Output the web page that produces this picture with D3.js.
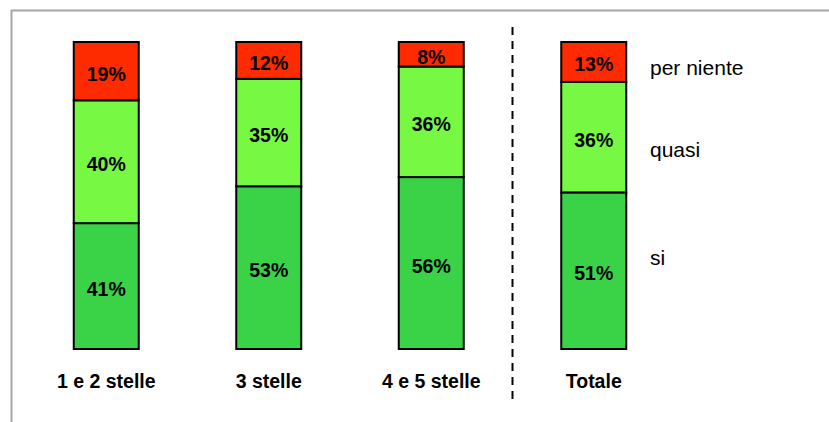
<!DOCTYPE html>
<html>
<head>
<meta charset="utf-8">
<script src="https://cdn.jsdelivr.net/npm/d3@7"></script>
<style>
  body { margin: 0; background: #fff; }
  svg text { font-family: "Liberation Sans", Arial, sans-serif; }
</style>
</head>
<body>
<div id="chart"></div>
<script>
// categories and values (percent), stacked bottom -> top
var categories = ["1 e 2 stelle", "3 stelle", "4 e 5 stelle", "Totale"];
var siValues = [41, 53, 56, 51];
var quasiValues = [40, 35, 36, 36];
var perNienteValues = [19, 12, 8, 13];
var seriesNames = ["si", "quasi", "per niente"];
var seriesColors = ["#3ad246", "#77f944", "#ff2b00"];

var width = 829, height = 422;

var svg = d3.select("#chart").append("svg")
  .attr("width", width)
  .attr("height", height);

// outer chart border (right and bottom edges fall outside the picture)
svg.append("rect")
  .attr("x", 11.5).attr("y", 10.5)
  .attr("width", 900).attr("height", 500)
  .attr("fill", "none")
  .attr("stroke", "#a6a6a6")
  .attr("stroke-width", 2);

var x = d3.scaleBand()
  .domain(categories)
  .range([25, 675])
  .paddingInner(0.6)
  .paddingOuter(0.3);

var y = d3.scaleLinear()
  .domain([0, 100])
  .range([349, 42]);

var table = categories.map(function(c, i) {
  return { cat: c, "si": siValues[i], "quasi": quasiValues[i], "per niente": perNienteValues[i] };
});

var stack = d3.stack().keys(seriesNames);
var layers = stack(table);

var layer = svg.selectAll("g.layer")
  .data(layers)
  .enter().append("g")
  .attr("class", "layer")
  .attr("fill", function(d, i) { return seriesColors[i]; });

layer.selectAll("rect")
  .data(function(d) { return d; })
  .enter().append("rect")
  .attr("x", function(d) { return x(d.data.cat); })
  .attr("y", function(d) { return y(d[1]); })
  .attr("width", x.bandwidth())
  .attr("height", function(d) { return y(d[0]) - y(d[1]); })
  .attr("stroke", "#000")
  .attr("stroke-width", 2);

// value labels
layer.selectAll("text")
  .data(function(d) { return d; })
  .enter().append("text")
  .attr("x", function(d) { return x(d.data.cat) + x.bandwidth() / 2; })
  .attr("y", function(d) { return (y(d[0]) + y(d[1])) / 2 + 9.5; })
  .attr("text-anchor", "middle")
  .attr("font-size", 19.5)
  .attr("font-weight", "bold")
  .attr("fill", "#000")
  .text(function(d) { return (d[1] - d[0]) + "%"; });

// category labels
svg.selectAll("text.cat")
  .data(categories)
  .enter().append("text")
  .attr("class", "cat")
  .attr("x", function(d) { return x(d) + x.bandwidth() / 2; })
  .attr("y", 388)
  .attr("text-anchor", "middle")
  .attr("font-size", 19.5)
  .attr("font-weight", "bold")
  .text(function(d) { return d; });

// dashed separator before "Totale"
var sepX = (x(categories[2]) + x.bandwidth() + x(categories[3])) / 2;
svg.append("line")
  .attr("x1", sepX).attr("x2", sepX)
  .attr("y1", 27).attr("y2", 402)
  .attr("stroke", "#000")
  .attr("stroke-width", 2)
  .attr("stroke-dasharray", "8,6");

// series labels on the right
var legendY = [265, 157, 75];
svg.selectAll("text.leg")
  .data(seriesNames)
  .enter().append("text")
  .attr("class", "leg")
  .attr("x", 650)
  .attr("y", function(d, i) { return legendY[i]; })
  .attr("font-size", 21)
  .attr("fill", "#000")
  .text(function(d) { return d; });
</script>
</body>
</html>
